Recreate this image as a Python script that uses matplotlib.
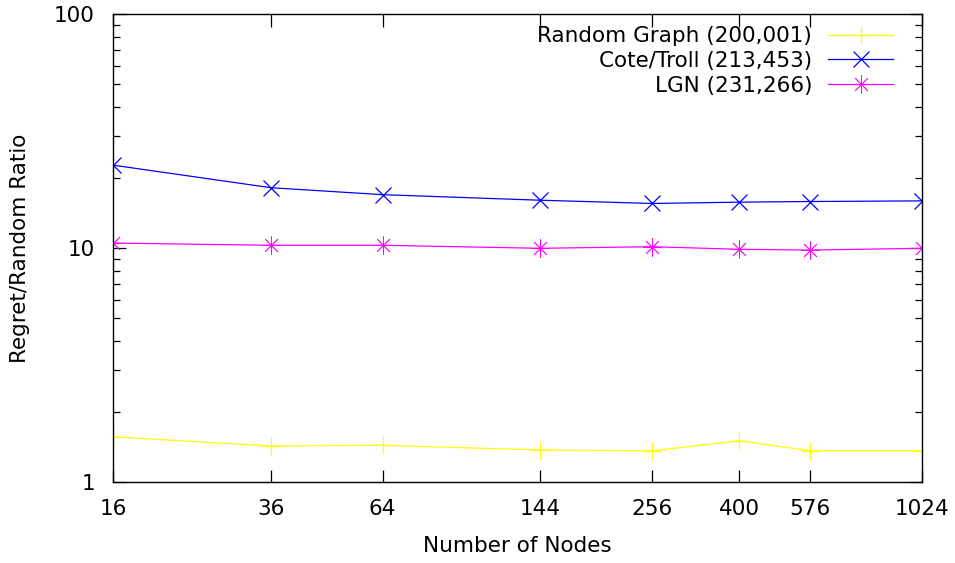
import matplotlib
matplotlib.use("Agg")
import matplotlib.pyplot as plt
from matplotlib.ticker import FixedLocator, NullFormatter, NullLocator, LogLocator

# data
nodes = [16, 36, 64, 144, 256, 400, 576, 1024]
random_graph = [1.56, 1.425, 1.435, 1.37, 1.36, 1.50, 1.36, 1.36]
cote_troll = [22.6, 18.1, 16.9, 16.0, 15.5, 15.7, 15.8, 15.9]
lgn = [10.5, 10.27, 10.27, 9.97, 10.13, 9.87, 9.8, 9.97]

plt.rcParams['font.family'] = ['DejaVu Sans']
plt.rcParams['font.size'] = 15.5

fig = plt.figure(figsize=(9.55, 5.63), dpi=100)
ax = fig.add_axes([113 / 955, 81 / 563, (922 - 113) / 955, (482 - 14) / 563])

ax.plot(nodes, random_graph, color='#ffff00', lw=0.9, marker='+', ms=13, mew=0.9,
        label='Random Graph (200,001)')
ax.plot(nodes, cote_troll, color='#0000ff', lw=0.9, marker='x', ms=12, mew=0.9,
        label='Cote/Troll (213,453)')
ax.plot(nodes, lgn, color='#ff00ff', lw=0.9, marker=(8, 2, 0), ms=13, mew=0.6,
        label='LGN (231,266)')

ax.set_xscale('log')
ax.set_yscale('log')
ax.set_xlim(16, 1024)
ax.set_ylim(1, 100)

ax.xaxis.set_major_locator(FixedLocator(nodes))
ax.xaxis.set_minor_locator(NullLocator())
ax.set_xticklabels([str(n) for n in nodes])
ax.yaxis.set_major_locator(FixedLocator([1, 10, 100]))
ax.set_yticklabels(['1', '10', '100'])
ax.yaxis.set_minor_locator(LogLocator(base=10, subs=range(2, 10)))
ax.yaxis.set_minor_formatter(NullFormatter())

ax.tick_params(which='both', direction='in', top=True, right=True, width=0.9)
ax.tick_params(which='major', length=9)
ax.tick_params(which='minor', length=5)
ax.tick_params(axis='x', which='major', pad=12)
ax.tick_params(axis='y', which='major', pad=13)
for s in ax.spines.values():
    s.set_linewidth(1.0)

ax.set_xlabel('Number of Nodes')
ax.set_ylabel('Regret/Random Ratio')
ax.xaxis.set_label_coords(0.5, (482 - 536) / 468)
ax.yaxis.set_label_coords((30 - 113) / 809, 0.5)

ax.legend(loc='upper right', bbox_to_anchor=(1 - 14 / 809, 1 + 3 / 468),
          frameon=False, markerfirst=False, handlelength=3.0,
          borderaxespad=0.3, borderpad=0.4, labelspacing=0.22, handletextpad=0.75)

fig.savefig('out.png', dpi=100)
